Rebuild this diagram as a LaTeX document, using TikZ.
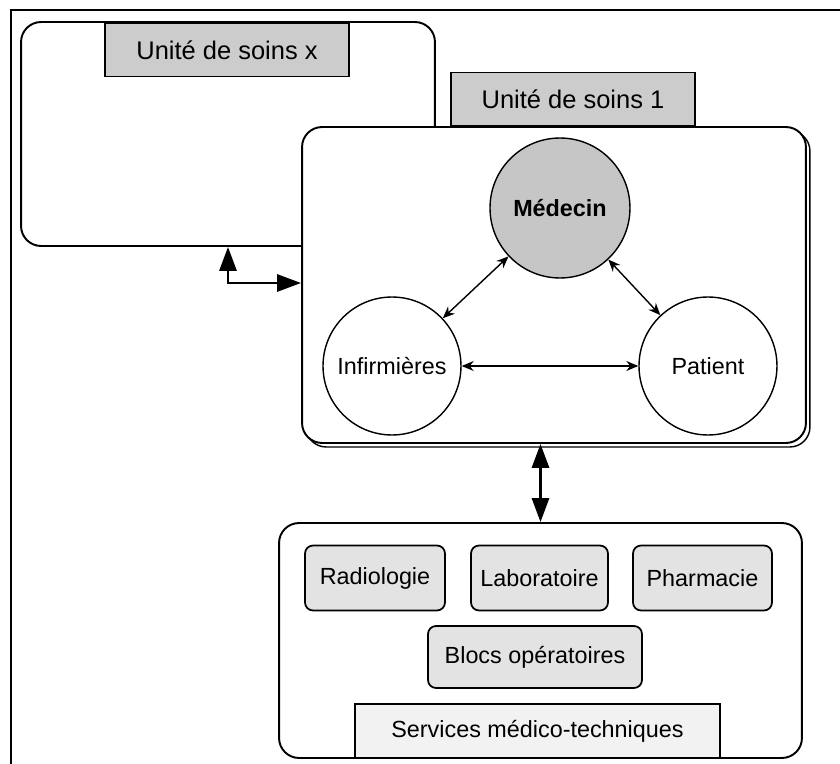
\documentclass[tikz,border=0pt]{standalone}
\usepackage{fontspec}
\setmainfont{Liberation Sans}
\usetikzlibrary{arrows.meta}

\begin{document}
\begin{tikzpicture}[x=0.02cm,y=-0.02cm,
    unitbox/.style={draw,line width=1.1pt,rounded corners=0.4cm,fill=white},
    titlebox/.style={draw,line width=1pt,fill=gray!40,inner sep=0pt,minimum width=4.88cm,minimum height=1.06cm,font=\fontsize{14.5}{17}\selectfont},
    actor/.style={circle,draw,line width=0.8pt,minimum size=2.76cm,inner sep=0pt,font=\fontsize{13.3}{16}\selectfont},
    service/.style={draw,line width=1pt,rounded corners=0.16cm,fill=gray!22,inner sep=0pt,minimum height=1.3cm,font=\fontsize{13.3}{16}\selectfont},
    link/.style={<->,>={Stealth[length=0.24cm,width=0.2cm]},line width=0.8pt},
    biglink/.style={<->,>={Triangle[length=0.48cm,width=0.34cm]},line width=1.7pt}]
  \useasboundingbox (0,0) rectangle (840,764);
  \draw[line width=0.8pt] (11,764) |- (840,10);
  \node[unitbox,minimum width=8.28cm,minimum height=4.48cm] (ux) at (228,134) {};
  \node[titlebox] (tx) at (227,50) {Unité de soins x};
  \node[unitbox,line width=0.8pt,minimum width=10.08cm,minimum height=6.32cm] (u1s) at (558,289) {};
  \node[unitbox,minimum width=10.08cm,minimum height=6.32cm] (u1) at (554,285) {};
  \node[titlebox] (t1) at (573,99) {Unité de soins 1};
  \node[actor,fill=gray!45,minimum size=2.8cm,font=\fontsize{13.3}{16}\selectfont\bfseries] (med) at (560,208) {Médecin};
  \node[actor] (inf) at (392,366) {Infirmières};
  \node[actor] (pat) at (708,366) {Patient};
  \draw[link] (med) -- (inf);
  \draw[link] (med) -- (pat);
  \draw[link] (inf) -- (pat);
  \coordinate (bend) at (228,283);
  \draw[biglink] (ux.south) -- (bend) -- (bend -| u1.west);
  \node[unitbox,minimum width=10.46cm,minimum height=4.7cm] (svc) at (540.5,640.5) {};
  \draw[biglink] (svc.north) -- (svc.north |- u1.south);
  \node[service,minimum width=2.8cm] (radio) at (375,578) {Radiologie};
  \node[service,minimum width=2.74cm] (labo) at (539.5,578) {Laboratoire};
  \node[service,minimum width=2.78cm] (pharma) at (702.5,578) {Pharmacie};
  \node[service,minimum width=4.28cm,minimum height=1.24cm] (blocs) at (535,657) {Blocs opératoires};
  \node[draw,line width=1pt,fill=gray!10,inner sep=0pt,minimum width=7.3cm,minimum height=1.08cm,font=\fontsize{13.3}{16}\selectfont] (svct) at (537.5,731) {Services médico-techniques};
\end{tikzpicture}
\end{document}
